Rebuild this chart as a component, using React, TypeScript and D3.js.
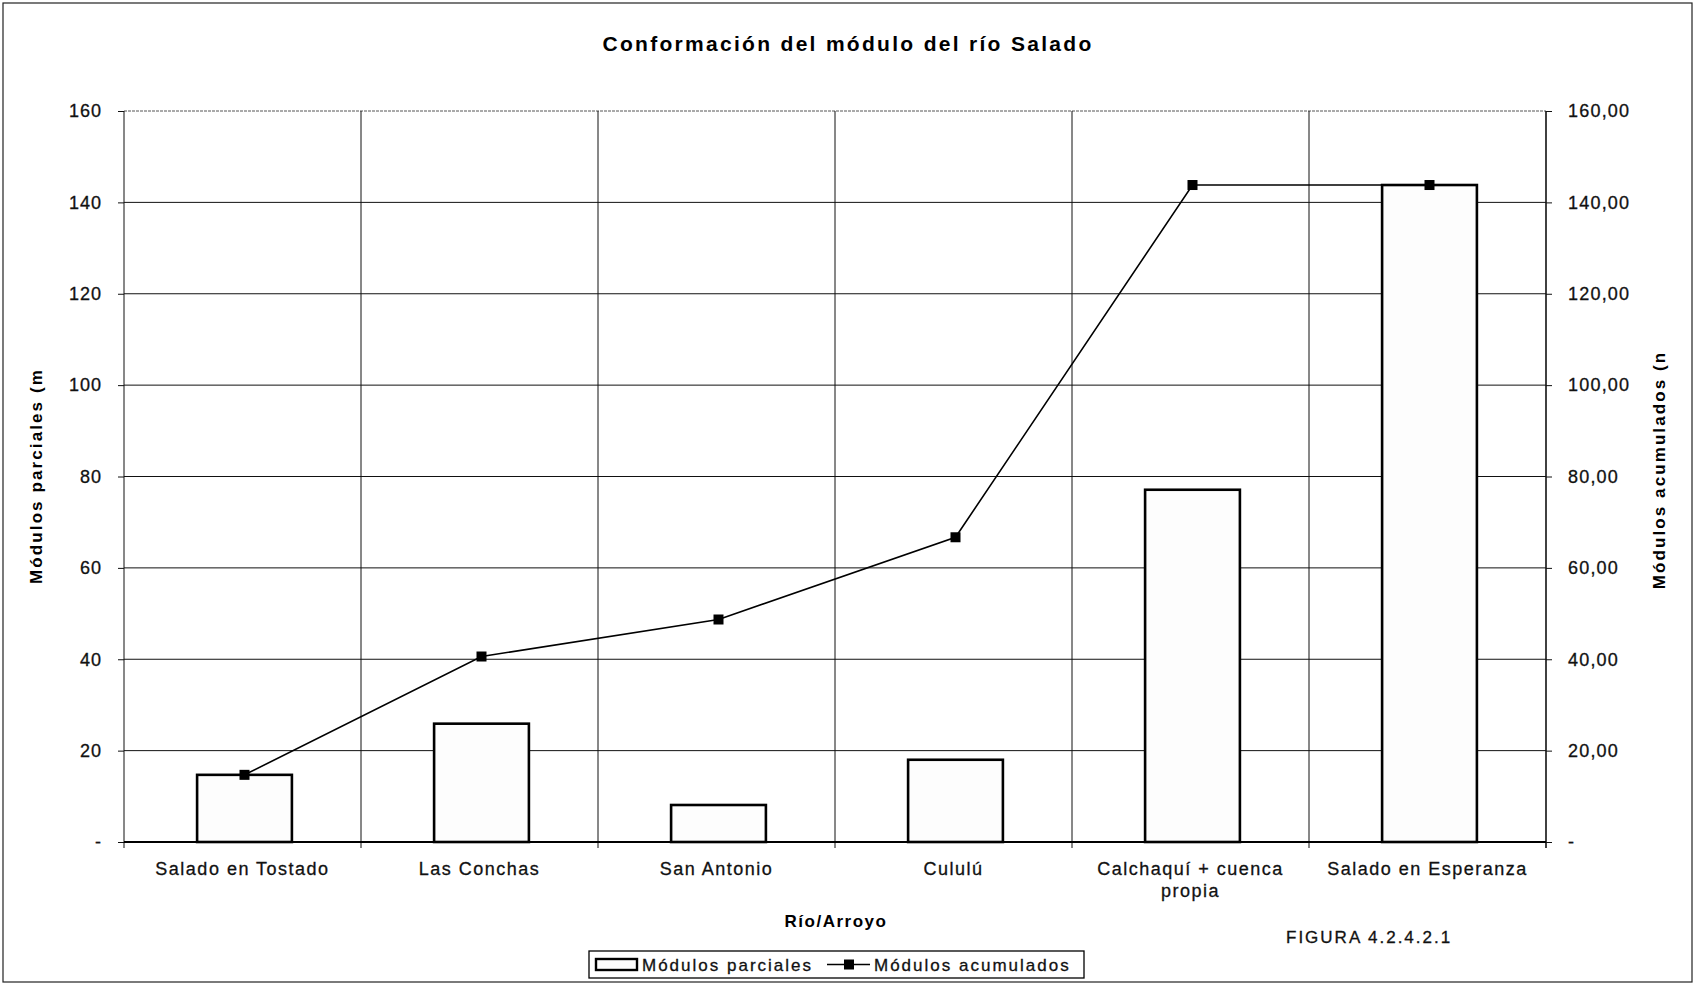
import React, { useRef, useEffect } from 'react';
import * as d3 from 'd3';

const categories = ['Salado en Tostado', 'Las Conchas', 'San Antonio', 'Cululú', 'Calchaquí + cuenca|propia', 'Salado en Esperanza'];
const parciales = [14.7, 25.9, 8.1, 18.0, 77.1, 143.8];
const acumulados = [14.7, 40.6, 48.7, 66.7, 143.8, 143.8];
const leftTicks = [0, 20, 40, 60, 80, 100, 120, 140, 160];
const rightTicks = [0, 20, 40, 60, 80, 100, 120, 140, 160];

const W = 1695;
const H = 985;

const App = () => {
  const ref = useRef<SVGSVGElement>(null);

  useEffect(() => {
    if (!ref.current) return;
    const svg = d3.select(ref.current);
    svg.selectAll('*').remove();

    const font = 'Arial, "Liberation Sans", sans-serif';
    const m = { left: 124, right: 1546, top: 111, bottom: 842 };
    // scanned text looks a bit heavier than plain regular
    const ink = (sel: any) => sel.attr('fill', '#111').attr('stroke', '#111').attr('stroke-width', 0.3);

    // outer frame
    svg.append('rect')
      .attr('x', 3).attr('y', 3).attr('width', W - 6).attr('height', H - 6)
      .attr('fill', 'white').attr('stroke', '#222').attr('stroke-width', 1.2);

    const x = d3.scaleBand().domain(categories).range([m.left, m.right]);
    const yL = d3.scaleLinear().domain([0, 160]).range([m.bottom, m.top]);
    const yR = d3.scaleLinear().domain([0, 160]).range([m.bottom, m.top]);

    // horizontal gridlines
    svg.append('g')
      .selectAll('line')
      .data(leftTicks.filter(t => t > 0))
      .join('line')
      .attr('x1', m.left).attr('x2', m.right)
      .attr('y1', d => yL(d)).attr('y2', d => yL(d))
      .attr('stroke', d => (d === 160 ? '#555' : '#111'))
      .attr('stroke-width', 1)
      .attr('stroke-dasharray', d => (d === 160 ? '3,1' : null));

    // vertical band gridlines
    const edges = categories.map(c => x(c) as number).concat([m.right]);
    svg.append('g')
      .selectAll('line')
      .data(edges)
      .join('line')
      .attr('x1', d => d).attr('x2', d => d)
      .attr('y1', m.top).attr('y2', m.bottom + 6)
      .attr('stroke', '#111')
      .attr('stroke-width', (d, i) => (i === edges.length - 1 ? 1.6 : 1));

    // left axis
    const left = svg.append('g')
      .attr('transform', `translate(${m.left},0)`)
      .call(d3.axisLeft(yL).tickValues(leftTicks).tickSize(6).tickPadding(16)
        .tickFormat(d => (d === 0 ? '-' : String(d))));
    left.select('.domain').remove();
    left.selectAll('.tick line').attr('stroke', '#111');
    left.selectAll('.tick text')
      .attr('font-family', font).attr('font-size', 18)
      .attr('letter-spacing', 1)
      .call(ink);

    // right axis
    const right = svg.append('g')
      .attr('transform', `translate(${m.right},0)`)
      .call(d3.axisRight(yR).tickValues(rightTicks).tickSize(6).tickPadding(16)
        .tickFormat(d => (d === 0 ? '-' : d3.format('.2f')(d as number).replace('.', ','))));
    right.select('.domain').remove();
    right.selectAll('.tick line').attr('stroke', '#111');
    right.selectAll('.tick text')
      .attr('font-family', font).attr('font-size', 18)
      .attr('letter-spacing', 1.2)
      .call(ink);

    // bars
    const bw = x.bandwidth() * 0.4;
    svg.append('g')
      .selectAll('rect')
      .data(parciales)
      .join('rect')
      .attr('x', (d, i) => (x(categories[i]) as number) + x.bandwidth() / 2 - bw / 2 + 2)
      .attr('y', d => yL(d))
      .attr('width', bw)
      .attr('height', d => yL(0) - yL(d))
      .attr('fill', '#fdfdfd')
      .attr('stroke', '#000')
      .attr('stroke-width', 2.6);

    // bottom axis line
    svg.append('line')
      .attr('x1', m.left).attr('x2', m.right)
      .attr('y1', m.bottom).attr('y2', m.bottom)
      .attr('stroke', '#000').attr('stroke-width', 2);

    // accumulated line
    const cx = (i: number) => (x(categories[i]) as number) + x.bandwidth() / 2 + 2;
    const line = d3.line<number>().x((d, i) => cx(i)).y(d => yR(d));
    svg.append('path')
      .datum(acumulados)
      .attr('fill', 'none')
      .attr('stroke', '#000')
      .attr('stroke-width', 1.6)
      .attr('d', line);
    svg.append('g')
      .selectAll('rect')
      .data(acumulados)
      .join('rect')
      .attr('x', (d, i) => cx(i) - 5)
      .attr('y', d => yR(d) - 5)
      .attr('width', 10).attr('height', 10)
      .attr('fill', '#000');

    // category labels
    const lab = svg.append('g');
    categories.forEach((c, i) => {
      const t = lab.append('text')
        .attr('x', (x(c) as number) + x.bandwidth() / 2)
        .attr('y', 875)
        .attr('text-anchor', 'middle')
        .attr('font-family', font).attr('font-size', 18)
        .attr('letter-spacing', 1.5)
        .call(ink);
      c.split('|').forEach((s, k) => {
        t.append('tspan')
          .attr('x', (x(c) as number) + x.bandwidth() / 2)
          .attr('dy', k === 0 ? 0 : 22)
          .text(s);
      });
    });

    // title
    svg.append('text')
      .attr('x', 848).attr('y', 51)
      .attr('text-anchor', 'middle')
      .attr('font-family', font).attr('font-size', 21).attr('font-weight', 'bold')
      .attr('letter-spacing', 2.3)
      .text('Conformación del módulo del río Salado');

    // axis titles
    svg.append('text')
      .attr('transform', 'translate(42,476) rotate(-90)')
      .attr('text-anchor', 'middle')
      .attr('font-family', font).attr('font-size', 17).attr('font-weight', 'bold')
      .attr('letter-spacing', 2.1)
      .text('Módulos parciales (m');
    svg.append('text')
      .attr('transform', 'translate(1665,470) rotate(-90)')
      .attr('text-anchor', 'middle')
      .attr('font-family', font).attr('font-size', 17).attr('font-weight', 'bold')
      .attr('letter-spacing', 2.1)
      .text('Módulos acumulados (n');
    svg.append('text')
      .attr('x', 836).attr('y', 927)
      .attr('text-anchor', 'middle')
      .attr('font-family', font).attr('font-size', 17).attr('font-weight', 'bold')
      .attr('letter-spacing', 1.5)
      .text('Río/Arroyo');
    svg.append('text')
      .attr('x', 1286).attr('y', 943)
      .attr('font-family', font).attr('font-size', 17)
      .attr('letter-spacing', 2)
      .call(ink)
      .text('FIGURA 4.2.4.2.1');

    // legend
    const lg = svg.append('g');
    lg.append('rect')
      .attr('x', 589).attr('y', 951).attr('width', 495).attr('height', 27)
      .attr('fill', 'white').attr('stroke', '#000').attr('stroke-width', 1.3);
    lg.append('rect')
      .attr('x', 596).attr('y', 959).attr('width', 41).attr('height', 11)
      .attr('fill', '#fdfdfd').attr('stroke', '#000').attr('stroke-width', 2.4);
    lg.append('text')
      .attr('x', 642).attr('y', 971)
      .attr('font-family', font).attr('font-size', 17)
      .attr('letter-spacing', 2)
      .call(ink)
      .text('Módulos parciales');
    lg.append('line')
      .attr('x1', 827).attr('x2', 870).attr('y1', 964.5).attr('y2', 964.5)
      .attr('stroke', '#000').attr('stroke-width', 1.6);
    lg.append('rect')
      .attr('x', 844).attr('y', 959.5).attr('width', 10).attr('height', 10)
      .attr('fill', '#000');
    lg.append('text')
      .attr('x', 874).attr('y', 971)
      .attr('font-family', font).attr('font-size', 17)
      .attr('letter-spacing', 2)
      .call(ink)
      .text('Módulos acumulados');
  }, []);

  return (
    <svg
      ref={ref}
      width={W}
      height={H}
      style={{ position: 'absolute', left: 0, top: 0, background: 'white' }}
    />
  );
};

export default App;
